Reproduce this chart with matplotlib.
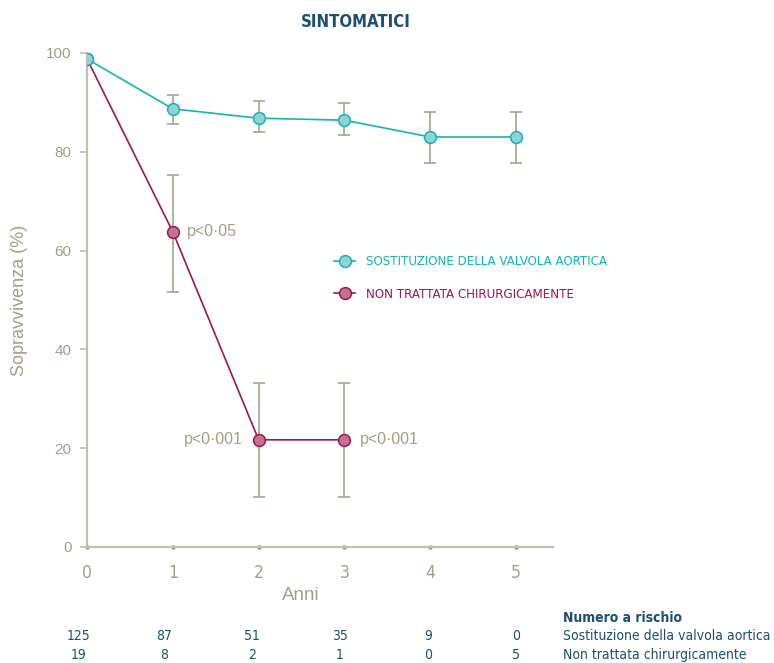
import matplotlib.pyplot as plt
from matplotlib.transforms import blended_transform_factory

plt.rcParams['font.family'] = ['DejaVu Sans']
plt.rcParams['font.stretch'] = 'condensed'

# anni di follow-up
anni = [0, 1, 2, 3, 4, 5]

# sopravvivenza (%) con limiti inferiore / superiore
avr_surv = [98.8, 88.7, 86.8, 86.4, 83.0, 83.0]
avr_low = [98.8, 85.6, 84.0, 83.4, 77.7, 77.7]
avr_high = [98.8, 91.5, 90.3, 89.9, 88.1, 88.1]

nt_anni = [0, 1, 2, 3]
nt_surv = [98.8, 63.8, 21.7, 21.7]
nt_low = [98.8, 51.6, 10.1, 10.1]
nt_high = [98.8, 75.3, 33.2, 33.2]

# numero a rischio
risk_avr = [125, 87, 51, 35, 9, 0]
risk_nt = [19, 8, 2, 1, 0, 5]

label_avr = 'SOSTITUZIONE DELLA VALVOLA AORTICA'
label_nt = 'NON TRATTATA CHIRURGICAMENTE'

teal = '#17b3b3'
teal_face = '#8fd3d3'
wine = '#9c1658'
wine_face = '#c27390'
grey_axis = '#c3beaf'
grey_txt = '#a39e89'
navy = '#1d4f6e'
sans = ['Liberation Sans', 'DejaVu Sans']

fig = plt.figure(figsize=(7.74, 6.63), dpi=100)
ax = fig.add_axes([87 / 774, 116 / 663, 466 / 774, 494 / 663])

def err(vals, low, high):
    return [[v - l for v, l in zip(vals, low)], [h - v for v, h in zip(vals, high)]]

ax.errorbar(anni[1:], avr_surv[1:], yerr=err(avr_surv[1:], avr_low[1:], avr_high[1:]),
            fmt='none', ecolor='#a8a28f', elinewidth=1.2, capsize=4, capthick=1.2, zorder=1)
ax.errorbar(nt_anni[1:], nt_surv[1:], yerr=err(nt_surv[1:], nt_low[1:], nt_high[1:]),
            fmt='none', ecolor='#a8a28f', elinewidth=1.2, capsize=4, capthick=1.2, zorder=1)

l_nt, = ax.plot(nt_anni, nt_surv, color=wine, lw=1.2, marker='o', ms=8.5,
                mfc=wine_face, mec=wine, mew=1.1, label=label_nt, zorder=3)
l_avr, = ax.plot(anni, avr_surv, color=teal, lw=1.2, marker='o', ms=8.5,
                 mfc=teal_face, mec=teal, mew=1.1, label=label_avr, zorder=4)

# valori p
pfont = dict(color=grey_txt, fontsize=11.5, family=sans, fontstretch='normal')
ax.text(nt_anni[1] + 0.16, nt_surv[1], 'p<0·05', ha='left', va='center', **pfont)
ax.text(nt_anni[2] - 0.18, nt_surv[2], 'p<0·001', ha='right', va='center', **pfont)
ax.text(nt_anni[3] + 0.18, nt_surv[3], 'p<0·001', ha='left', va='center', **pfont)

ax.set_xlim(0, 5.43)
ax.set_ylim(0, 100)
ax.set_xticks(anni)
ax.set_yticks([0, 20, 40, 60, 80, 100])
for s in ['top', 'right']:
    ax.spines[s].set_visible(False)
for s in ['left', 'bottom']:
    ax.spines[s].set_color(grey_axis)
    ax.spines[s].set_linewidth(1.6)
ax.tick_params(axis='y', colors=grey_axis, labelcolor=grey_txt, length=5, width=1.2,
               labelsize=11, pad=6)
ax.tick_params(axis='x', colors='#9a9480', labelcolor=grey_txt, direction='inout',
               length=3, width=2.5, labelsize=12.5, pad=11)
for t in ax.get_yticklabels():
    t.set_family(sans)
    t.set_stretch('normal')

fig.text(356 / 774, 1 - 22 / 663, 'SINTOMATICI', ha='center', va='center',
         fontsize=12, fontweight='bold', color=navy)
fig.text(301 / 774, 1 - 595 / 663, 'Anni', ha='center', va='center',
         fontsize=13.5, color=grey_txt, family=sans, fontstretch='normal')
fig.text(20 / 774, 1 - 300 / 663, 'Sopravvivenza (%)', ha='center', va='center',
         rotation=90, fontsize=13, color=grey_txt, family=sans, fontstretch='normal')

ax.legend(handles=[l_avr, l_nt], loc='center left',
          bbox_to_anchor=(334 / 774, 1 - 278 / 663), bbox_transform=fig.transFigure,
          frameon=False, fontsize=9.5, labelcolor='linecolor', borderpad=0,
          borderaxespad=0, handlelength=1.6, handletextpad=0.8, labelspacing=1.45)

# tabella numero a rischio
risk_x = [79, 164, 252, 340, 428, 516]
for px, a, n in zip(risk_x, risk_avr, risk_nt):
    fig.text(px / 774, 1 - 636 / 663, str(a), ha='center', va='center',
             fontsize=10, color=navy)
    fig.text(px / 774, 1 - 655 / 663, str(n), ha='center', va='center',
             fontsize=10, color=navy)
fig.text(563 / 774, 1 - 618 / 663, 'Numero a rischio', ha='left', va='center',
         fontsize=10, fontweight='bold', color=navy)
fig.text(563 / 774, 1 - 636 / 663, 'Sostituzione della valvola aortica', ha='left',
         va='center', fontsize=10, color=navy)
fig.text(563 / 774, 1 - 655 / 663, 'Non trattata chirurgicamente', ha='left',
         va='center', fontsize=10, color=navy)

fig.savefig('out.png', dpi=100)
